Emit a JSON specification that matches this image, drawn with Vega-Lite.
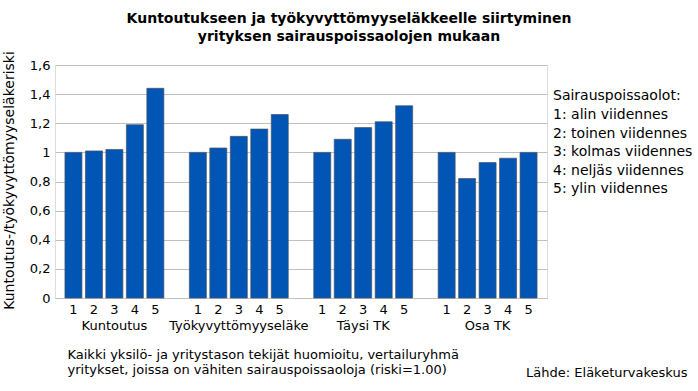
{
  "$schema": "https://vega.github.io/schema/vega-lite/v6.json",
  "width": 492,
  "height": 233,
  "autosize": "none",
  "padding": {"left": 55, "top": 65, "right": 151, "bottom": 93},
  "background": "white",
  "title": {
    "text": ["Kuntoutukseen ja työkyvyttömyyseläkkeelle siirtyminen", "yrityksen sairauspoissaolojen mukaan"],
    "font": "DejaVu Sans",
    "fontSize": 14,
    "fontWeight": "bold",
    "color": "#000000",
    "anchor": "middle",
    "frame": "group",
    "dx": 48,
    "lineHeight": 18,
    "offset": 7
  },
  "data": {
    "values": [
      {"ryhma": "Kuntoutus", "luokka": "1", "selite": "1: alin viidennes", "riski": 1.0},
      {"ryhma": "Kuntoutus", "luokka": "2", "selite": "2: toinen viidennes", "riski": 1.01},
      {"ryhma": "Kuntoutus", "luokka": "3", "selite": "3: kolmas viidennes", "riski": 1.02},
      {"ryhma": "Kuntoutus", "luokka": "4", "selite": "4: neljäs viidennes", "riski": 1.19},
      {"ryhma": "Kuntoutus", "luokka": "5", "selite": "5: ylin viidennes", "riski": 1.44},
      {"ryhma": "Työkyvyttömyyseläke", "luokka": "1", "selite": "1: alin viidennes", "riski": 1.0},
      {"ryhma": "Työkyvyttömyyseläke", "luokka": "2", "selite": "2: toinen viidennes", "riski": 1.03},
      {"ryhma": "Työkyvyttömyyseläke", "luokka": "3", "selite": "3: kolmas viidennes", "riski": 1.11},
      {"ryhma": "Työkyvyttömyyseläke", "luokka": "4", "selite": "4: neljäs viidennes", "riski": 1.16},
      {"ryhma": "Työkyvyttömyyseläke", "luokka": "5", "selite": "5: ylin viidennes", "riski": 1.26},
      {"ryhma": "Täysi TK", "luokka": "1", "selite": "1: alin viidennes", "riski": 1.0},
      {"ryhma": "Täysi TK", "luokka": "2", "selite": "2: toinen viidennes", "riski": 1.09},
      {"ryhma": "Täysi TK", "luokka": "3", "selite": "3: kolmas viidennes", "riski": 1.17},
      {"ryhma": "Täysi TK", "luokka": "4", "selite": "4: neljäs viidennes", "riski": 1.21},
      {"ryhma": "Täysi TK", "luokka": "5", "selite": "5: ylin viidennes", "riski": 1.32},
      {"ryhma": "Osa TK", "luokka": "1", "selite": "1: alin viidennes", "riski": 1.0},
      {"ryhma": "Osa TK", "luokka": "2", "selite": "2: toinen viidennes", "riski": 0.82},
      {"ryhma": "Osa TK", "luokka": "3", "selite": "3: kolmas viidennes", "riski": 0.93},
      {"ryhma": "Osa TK", "luokka": "4", "selite": "4: neljäs viidennes", "riski": 0.96},
      {"ryhma": "Osa TK", "luokka": "5", "selite": "5: ylin viidennes", "riski": 1.0}
    ]
  },
  "layer": [
    {
      "mark": {"type": "bar", "stroke": "#4a5262", "strokeWidth": 0.7},
      "encoding": {
        "x": {
          "field": "ryhma",
          "type": "nominal",
          "sort": ["Kuntoutus", "Työkyvyttömyyseläke", "Täysi TK", "Osa TK"],
          "scale": {"paddingInner": 0.205, "paddingOuter": 0.08},
          "axis": {
            "orient": "bottom",
            "labelAngle": 0,
            "labelFont": "DejaVu Sans",
            "labelFontSize": 13,
            "labelColor": "#000000",
            "labelPadding": 21,
            "ticks": false,
            "tickSize": 0,
            "domain": true,
            "domainColor": "#c0c0c0",
            "grid": false,
            "title": ["Kaikki yksilö- ja yritystason tekijät huomioitu, vertailuryhmä", "yritykset, joissa on vähiten sairauspoissaoloja (riski=1.00)"],
            "titleFont": "DejaVu Sans",
            "titleFontSize": 13,
            "titleFontWeight": "normal",
            "titleColor": "#000000",
            "titleAnchor": "start",
            "titleAlign": "left",
            "titleBaseline": "alphabetic",
            "titleX": 12,
            "titleY": 60,
            "titleLineHeight": 15.5
          }
        },
        "xOffset": {
          "field": "luokka",
          "type": "nominal",
          "scale": {"paddingInner": 0.17, "paddingOuter": 0}
        },
        "y": {
          "field": "riski",
          "type": "quantitative",
          "title": "Kuntoutus-/työkyvyttömyyseläkeriski",
          "scale": {"domain": [0, 1.6], "nice": false},
          "axis": {
            "values": [0, 0.2, 0.4, 0.6, 0.8, 1, 1.2, 1.4, 1.6],
            "labelExpr": "replace(format(datum.value, '~g'), '.', ',')",
            "labelOverlap": false,
            "labelFont": "DejaVu Sans",
            "labelFontSize": 13,
            "labelColor": "#000000",
            "labelPadding": 5,
            "ticks": false,
            "tickSize": 0,
            "domain": false,
            "grid": true,
            "gridColor": "#c0c0c0",
            "gridWidth": 1,
            "titleFont": "DejaVu Sans",
            "titleFontSize": 14,
            "titleFontWeight": "normal",
            "titleColor": "#000000",
            "titleAngle": -90,
            "titleAlign": "center",
            "titleBaseline": "middle",
            "titleX": -46,
            "titleY": 115
          }
        },
        "color": {
          "field": "selite",
          "type": "nominal",
          "scale": {"range": ["#0055b5", "#0055b5", "#0055b5", "#0055b5", "#0055b5"]},
          "legend": {
            "orient": "none",
            "legendX": 498,
            "legendY": 24,
            "title": "Sairauspoissaolot:",
            "titleFont": "DejaVu Sans",
            "titleFontSize": 14,
            "titleFontWeight": "normal",
            "titleColor": "#000000",
            "titlePadding": 5,
            "labelFont": "DejaVu Sans",
            "labelFontSize": 14,
            "labelColor": "#000000",
            "labelOffset": -14,
            "symbolSize": 0.01,
            "symbolStrokeWidth": 0,
            "symbolOpacity": 0,
            "rowPadding": 4.6,
            "padding": 0
          }
        }
      }
    },
    {
      "mark": {"type": "text", "dy": 12, "baseline": "middle", "align": "center", "font": "DejaVu Sans", "fontSize": 13, "color": "#000000"},
      "encoding": {
        "x": {
          "field": "ryhma",
          "type": "nominal",
          "sort": ["Kuntoutus", "Työkyvyttömyyseläke", "Täysi TK", "Osa TK"],
          "axis": {
            "orient": "bottom",
            "labels": false,
            "ticks": false,
            "domain": false,
            "grid": false,
            "title": "Lähde: Eläketurvakeskus",
            "titleFont": "DejaVu Sans",
            "titleFontSize": 13,
            "titleFontWeight": "normal",
            "titleColor": "#000000",
            "titleAnchor": "end",
            "titleAlign": "right",
            "titleBaseline": "alphabetic",
            "titleX": 632,
            "titleY": 78
          }
        },
        "xOffset": {"field": "luokka", "type": "nominal"},
        "y": {
          "datum": 0,
          "type": "quantitative",
          "title": "Kuntoutus-/työkyvyttömyyseläkeriski",
          "axis": {
            "values": [0, 0.2, 0.4, 0.6, 0.8, 1, 1.2, 1.4, 1.6],
            "labelExpr": "replace(format(datum.value, '~g'), '.', ',')",
            "labelOverlap": false,
            "labelFont": "DejaVu Sans",
            "labelFontSize": 13,
            "labelColor": "#000000",
            "labelPadding": 5,
            "ticks": false,
            "tickSize": 0,
            "domain": false,
            "grid": true,
            "gridColor": "#c0c0c0",
            "gridWidth": 1,
            "titleFont": "DejaVu Sans",
            "titleFontSize": 14,
            "titleFontWeight": "normal",
            "titleColor": "#000000",
            "titleAngle": -90,
            "titleAlign": "center",
            "titleBaseline": "middle",
            "titleX": -46,
            "titleY": 115
          }
        },
        "text": {"field": "luokka"}
      }
    }
  ],
  "resolve": {"axis": {"x": "independent"}}
}
